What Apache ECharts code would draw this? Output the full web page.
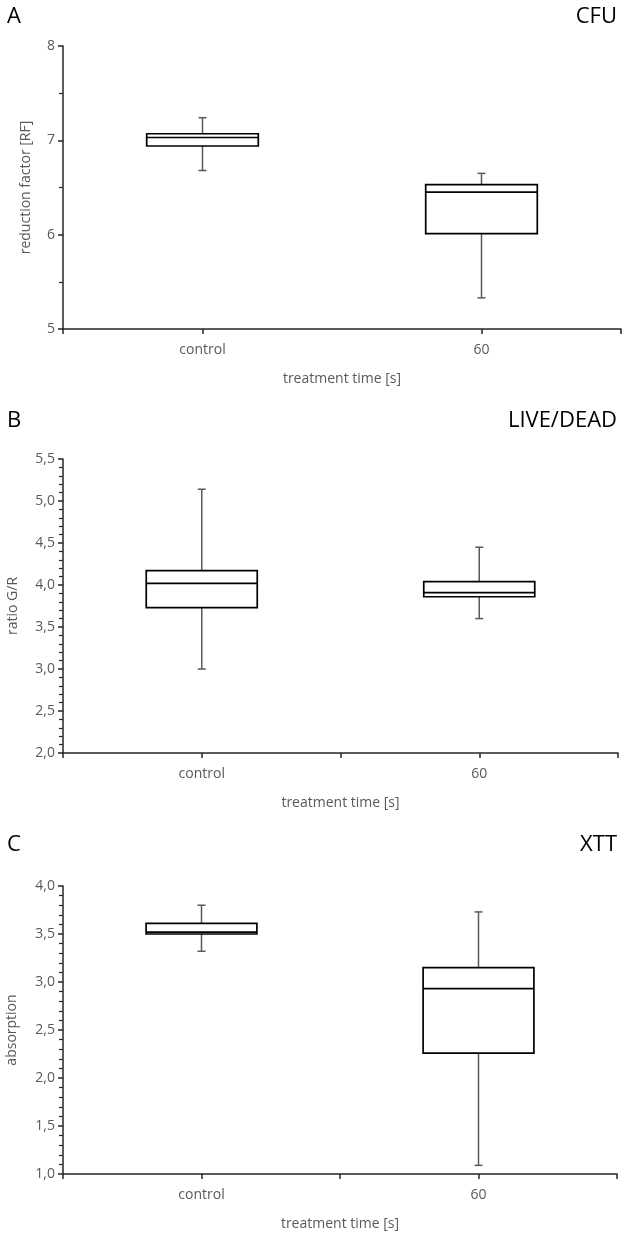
<!DOCTYPE html>
<html><head><meta charset="utf-8">
<script src="https://cdn.jsdelivr.net/npm/echarts@6/dist/echarts.min.js"></script>
<style>html,body{margin:0;padding:0;background:#fff}#c{width:625px;height:1235px}</style>
</head><body><div id="c"></div>
<script>
// Categories
const categories = ['control', '60'];
// Box stats: [min, Q1, median, Q3, max]
const cfuControl = [6.68, 6.94, 7.03, 7.07, 7.24];
const cfu60 = [5.33, 6.01, 6.45, 6.53, 6.65];
const liveDeadControl = [3.00, 3.73, 4.02, 4.17, 5.14];
const liveDead60 = [3.60, 3.86, 3.91, 4.04, 4.45];
const xttControl = [3.32, 3.50, 3.52, 3.61, 3.80];
const xtt60 = [1.09, 2.26, 2.93, 3.15, 3.73];
// Y tick labels
const cfuTicks = [5, 6, 7, 8];
const liveDeadTicks = [2.0, 2.5, 3.0, 3.5, 4.0, 4.5, 5.0, 5.5];
const xttTicks = [1.0, 1.5, 2.0, 2.5, 3.0, 3.5, 4.0];
// Panel texts
const panelLetters = ['A', 'B', 'C'];
const panelTitles = ['CFU', 'LIVE/DEAD', 'XTT'];
const yNames = ['reduction factor [RF]', 'ratio G/R', 'absorption'];
const xName = 'treatment time [s]';

const FONT = 'Open Sans';
const panels = [
  { data: [cfuControl, cfu60], ticks: cfuTicks, dec: 0, minor: 2, grid: {left: 63, right: 4, top: 46, height: 283}, titleTop: 1, yGap: 30, midTick: false },
  { data: [liveDeadControl, liveDead60], ticks: liveDeadTicks, dec: 1, minor: 5, grid: {left: 63, right: 7, top: 459, height: 294}, titleTop: 405, yGap: 43, midTick: true },
  { data: [xttControl, xtt60], ticks: xttTicks, dec: 1, minor: 5, grid: {left: 63, right: 8, top: 886, height: 288}, titleTop: 829, yGap: 44, midTick: true }
];

const option = {
  animation: false,
  backgroundColor: '#fff',
  title: [], grid: [], xAxis: [], yAxis: [], series: []
};

panels.forEach((p, i) => {
  option.title.push({ text: panelLetters[i], left: 2, top: p.titleTop, textStyle: { fontFamily: FONT, fontSize: 22, fontWeight: 'normal', color: '#000' } });
  option.title.push({ text: panelTitles[i], right: 3, top: p.titleTop, textStyle: { fontFamily: FONT, fontSize: 22, fontWeight: 'normal', color: '#000' } });
  option.grid.push(Object.assign({ outerBoundsMode: 'none', containLabel: false }, p.grid));
  const lo = p.ticks[0], hi = p.ticks[p.ticks.length - 1];
  const step = p.ticks[1] - p.ticks[0];
  option.yAxis.push({
    type: 'value', gridIndex: i, min: lo, max: hi, interval: step,
    name: yNames[i], nameLocation: 'middle', nameGap: p.yGap,
    nameTextStyle: { fontFamily: FONT, fontSize: 14, color: '#595959' },
    axisLine: { show: true, lineStyle: { color: '#262626', width: 1.5 } },
    axisTick: { show: true, length: 5, lineStyle: { color: '#262626', width: 1.5 } },
    minorTick: { show: true, splitNumber: p.minor, length: 4, lineStyle: { color: '#262626', width: 1.2 } },
    splitLine: { show: false },
    axisLabel: { fontFamily: FONT, fontSize: 14, color: '#595959', margin: 8,
      formatter: v => v.toFixed(p.dec).replace('.', ',') }
  });
  // category axis with labels, ticks at category centers
  option.xAxis.push({
    type: 'category', gridIndex: i, data: categories,
    name: xName, nameLocation: 'middle', nameGap: 43,
    nameTextStyle: { fontFamily: FONT, fontSize: 14, color: '#595959' },
    axisLine: { show: true, lineStyle: { color: '#262626', width: 1.5 } },
    axisTick: { show: true, alignWithLabel: true, length: 5, lineStyle: { color: '#262626', width: 1.5 } },
    axisLabel: { fontFamily: FONT, fontSize: 14, color: '#595959', margin: 14 },
    splitLine: { show: false }
  });
  // boundary ticks
  option.xAxis.push({
    type: 'value', gridIndex: i, min: 0, max: categories.length,
    interval: p.midTick ? 1 : categories.length, position: 'bottom',
    axisLine: { show: false },
    axisTick: { show: true, length: 5, lineStyle: { color: '#262626', width: 1.5 } },
    axisLabel: { show: false }, splitLine: { show: false }
  });
  option.series.push({
    type: 'custom', xAxisIndex: i * 2, yAxisIndex: i,
    data: p.data.map((d, k) => [k].concat(d)),
    encode: { x: 0, y: [1, 2, 3, 4, 5] },
    renderItem: function (params, api) {
      const idx = api.value(0);
      const band = api.size([1, 0])[0];
      const bw = band * 0.4;
      const cap = 4;
      const pMin = api.coord([idx, api.value(1)]);
      const pQ1 = api.coord([idx, api.value(2)]);
      const pMed = api.coord([idx, api.value(3)]);
      const pQ3 = api.coord([idx, api.value(4)]);
      const pMax = api.coord([idx, api.value(5)]);
      const cx = pMed[0];
      const wStyle = { stroke: '#595959', lineWidth: 1.5 };
      const bStyle = { stroke: '#000', lineWidth: 1.7, fill: '#fff' };
      return { type: 'group', children: [
        { type: 'line', shape: { x1: cx, y1: pMax[1], x2: cx, y2: pQ3[1] }, style: wStyle },
        { type: 'line', shape: { x1: cx, y1: pQ1[1], x2: cx, y2: pMin[1] }, style: wStyle },
        { type: 'line', shape: { x1: cx - cap, y1: pMax[1], x2: cx + cap, y2: pMax[1] }, style: wStyle },
        { type: 'line', shape: { x1: cx - cap, y1: pMin[1], x2: cx + cap, y2: pMin[1] }, style: wStyle },
        { type: 'rect', shape: { x: cx - bw / 2, y: pQ3[1], width: bw, height: pQ1[1] - pQ3[1] }, style: bStyle },
        { type: 'line', shape: { x1: cx - bw / 2, y1: pMed[1], x2: cx + bw / 2, y2: pMed[1] }, style: { stroke: '#000', lineWidth: 1.7 } }
      ]};
    }
  });
});

const chart = echarts.init(document.getElementById('c'), null, { renderer: 'canvas' });
chart.setOption(option);
</script>
</body></html>
